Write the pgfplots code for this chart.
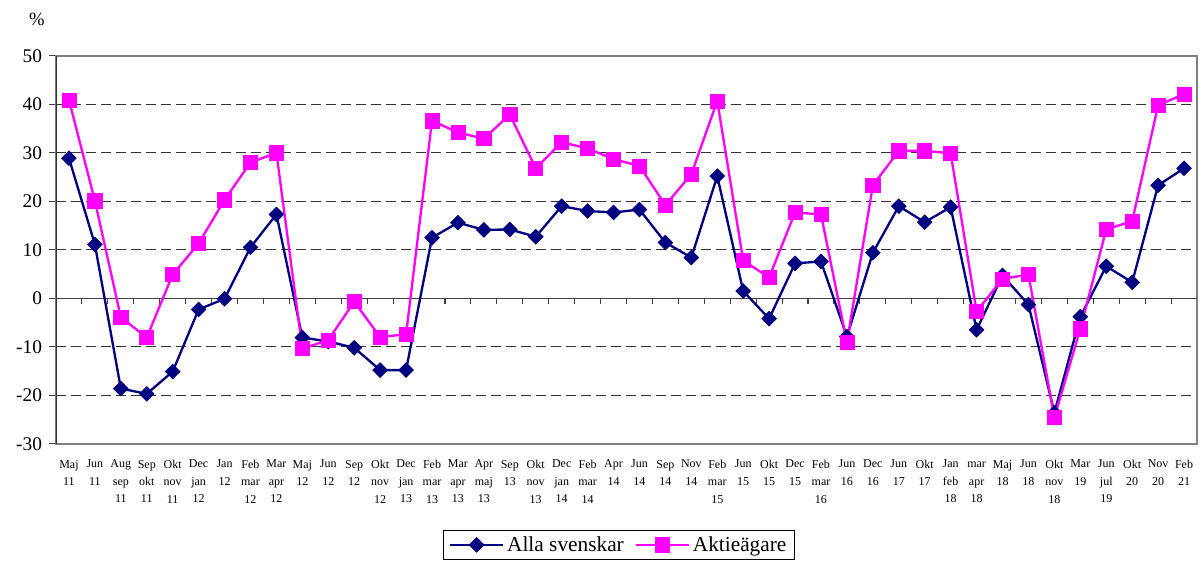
\documentclass[border=0pt]{standalone}
\usepackage{fontspec}
\setmainfont{Liberation Serif}
\usepackage{pgfplots}
\pgfplotsset{compat=1.18}
\definecolor{navyc}{HTML}{000080}
\definecolor{magc}{HTML}{FF00FF}
\begin{document}
\begin{tikzpicture}
\useasboundingbox (-42pt,-87.9pt) rectangle (860.25pt,332.85pt);
\begin{axis}[
  at={(0pt,0pt)}, anchor=south west,
  scale only axis, width=855.75pt, height=291pt,
  xmin=0.5, xmax=44.5, ymin=-30, ymax=50,
  /pgf/number format/assume math mode=true,
  axis line style={draw=gray, line width=1.8pt},
  xtick={1,...,44},
  xticklabels={{Maj\\11},{Jun\\11},{Aug\\sep\\11},{Sep\\okt\\11},{Okt\\nov\\11},{Dec\\jan\\12},{Jan\\12},{Feb\\mar\\12},{Mar\\apr\\12},{Maj\\12},{Jun\\12},{Sep\\12},{Okt\\nov\\12},{Dec\\jan\\13},{Feb\\mar\\13},{Mar\\apr\\13},{Apr\\maj\\13},{Sep\\13},{Okt\\nov\\13},{Dec\\jan\\14},{Feb\\mar\\14},{Apr\\14},{Jun\\14},{Sep\\14},{Nov\\14},{Feb\\mar\\15},{Jun\\15},{Okt\\15},{Dec\\15},{Feb\\mar\\16},{Jun\\16},{Dec\\16},{Jun\\17},{Okt\\17},{Jan\\feb\\18},{\vphantom{M}mar\\apr\\18},{Maj\\18},{Jun\\18},{Okt\\nov\\18},{Mar\\19},{Jun\\jul\\19},{Okt\\20},{Nov\\20},{Feb\\21}},
  xticklabel style={align=center, font=\fontsize{9}{13.1}\selectfont, inner sep=0pt, yshift=-7pt},
  xtick style={draw=none},
  ytick={-30,-20,...,50},
  yticklabels={-30,-20,-10,0,10,20,30,40,50},
  yticklabel style={font=\fontsize{14.5}{16}\selectfont, xshift=-2pt},
  ytick pos=left,
  tick align=outside,
  major tick length=5pt,
  ytick style={draw=gray!50!black, line width=0.8pt},
  ymajorgrids,
  grid style={dash pattern=on 7.5pt off 3.75pt, draw=black!80, line width=0.7pt},
  legend style={at={(0.4934,-0.222)}, anchor=north, legend columns=2, draw=black, line width=0.8pt,
    font=\fontsize{16}{18}\selectfont, inner xsep=4pt, inner ysep=2.5pt,
    /tikz/every even column/.append style={column sep=6pt}},
  legend image code/.code={\draw[mark repeat=2,mark phase=2] plot coordinates {(0pt,0pt) (20pt,0pt) (40pt,0pt)};},
]
\draw[line width=1pt, draw=gray!50!black] (axis cs:0.5,0) -- (axis cs:44.5,0);
\pgfplotsinvokeforeach{1,...,43}{\draw[line width=0.8pt, draw=gray!50!black] (axis cs:#1.5,0) -- ++(0pt,-4pt);}
\draw[line width=1.4pt, draw=gray!40!black] (axis cs:0.5,-30) -- (axis cs:0.5,50);
\addplot[navyc, line width=1.75pt, mark=square*, mark size=3.9pt, mark options={rotate=45, fill=navyc, draw=navyc, line width=0.5pt}] coordinates {
(1,28.9)(2,11.1)(3,-18.6)(4,-19.7)(5,-15.1)(6,-2.3)(7,-0.1)(8,10.5)(9,17.3)(10,-8.1)(11,-8.9)(12,-10.2)(13,-14.8)(14,-14.8)(15,12.5)(16,15.6)(17,14.1)(18,14.2)(19,12.7)(20,19.0)(21,18.0)(22,17.7)(23,18.3)(24,11.5)(25,8.4)(26,25.2)(27,1.5)(28,-4.2)(29,7.2)(30,7.6)(31,-7.9)(32,9.4)(33,19.0)(34,15.7)(35,18.8)(36,-6.5)(37,4.7)(38,-1.3)(39,-23.6)(40,-3.8)(41,6.6)(42,3.3)(43,23.3)(44,26.8)
};
\addlegendentry{Alla svenskar}
\addplot[magc, line width=1.75pt, mark=square*, mark size=5.3pt, mark options={fill=magc, draw=magc, line width=0.5pt}] coordinates {
(1,40.9)(2,20.1)(3,-3.9)(4,-8.1)(5,4.9)(6,11.3)(7,20.3)(8,28.0)(9,30.0)(10,-10.4)(11,-8.6)(12,-0.7)(13,-8.0)(14,-7.4)(15,36.6)(16,34.2)(17,32.9)(18,37.9)(19,26.8)(20,32.2)(21,30.9)(22,28.7)(23,27.3)(24,19.2)(25,25.6)(26,40.7)(27,7.8)(28,4.3)(29,17.7)(30,17.3)(31,-9.1)(32,23.3)(33,30.4)(34,30.4)(35,29.9)(36,-2.7)(37,4.0)(38,4.9)(39,-24.6)(40,-6.3)(41,14.2)(42,15.9)(43,39.8)(44,42.1)
};
\addlegendentry{Aktieägare}
\end{axis}
\node[font=\fontsize{14}{16}\selectfont] at (-14.25pt,318.5pt) {\%};
\end{tikzpicture}
\end{document}
